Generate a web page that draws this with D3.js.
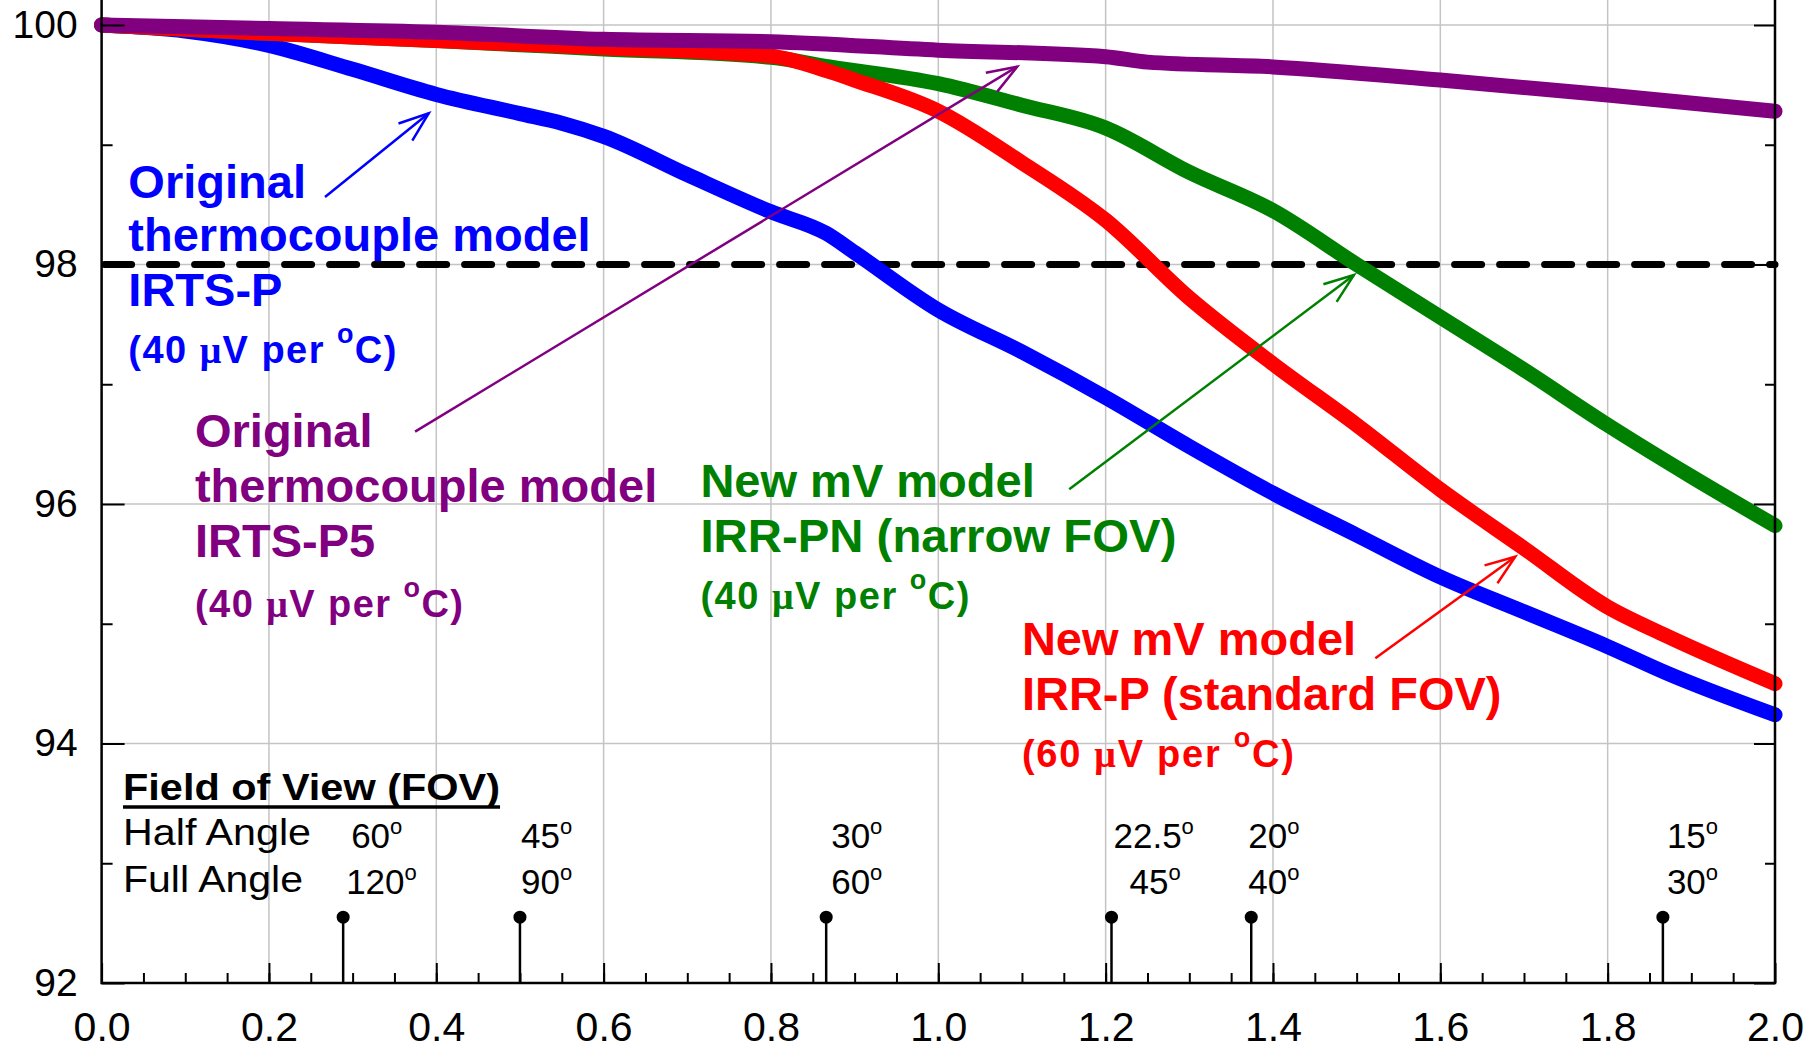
<!DOCTYPE html>
<html>
<head>
<meta charset="utf-8">
<script src="https://cdn.jsdelivr.net/npm/d3@7"></script>
<style>
  body { margin: 0; background: #fff; }
  svg { display: block; font-family: "Liberation Sans", Arial, sans-serif; }
</style>
</head>
<body>
<div id="chart"></div>
<script>
// values (x = distance ratio, y = percent)
const blueX = [0, 0.1, 0.2, 0.3, 0.4, 0.5, 0.55, 0.6, 0.7, 0.8, 0.866, 0.9, 1.0, 1.1, 1.2, 1.3, 1.4, 1.5, 1.6, 1.7, 1.8, 1.87, 2.0];
const blueY = [100, 99.95, 99.83, 99.63, 99.42, 99.26, 99.18, 99.07, 98.75, 98.44, 98.26, 98.1, 97.62, 97.27, 96.89, 96.48, 96.09, 95.74, 95.39, 95.1, 94.81, 94.59, 94.24];

const greenX = [0, 0.2, 0.4, 0.6, 0.8, 0.87, 1.0, 1.1, 1.2, 1.3, 1.4, 1.5, 1.6, 1.7, 1.8, 1.9, 2.0];
const greenY = [100, 99.93, 99.87, 99.8, 99.73, 99.65, 99.51, 99.33, 99.14, 98.77, 98.45, 98.0, 97.56, 97.12, 96.66, 96.23, 95.82];

const redX = [0, 0.2, 0.4, 0.6, 0.8, 0.87, 0.9, 1.0, 1.1, 1.2, 1.3, 1.4, 1.5, 1.6, 1.7, 1.8, 1.87, 2.0];
const redY = [100, 99.93, 99.87, 99.81, 99.74, 99.61, 99.54, 99.28, 98.85, 98.37, 97.72, 97.17, 96.66, 96.12, 95.63, 95.14, 94.9, 94.5];

const purpleX = [0, 0.2, 0.4, 0.6, 0.8, 1.0, 1.2, 1.25, 1.4, 1.6, 1.8, 2.0];
const purpleY = [100, 99.97, 99.94, 99.88, 99.86, 99.79, 99.735, 99.69, 99.65, 99.54, 99.415, 99.28];

const threshold = 98;

const xTicks = [0, 0.2, 0.4, 0.6, 0.8, 1.0, 1.2, 1.4, 1.6, 1.8, 2.0];
const xMinorTicks = d3.range(0.05, 2, 0.05);
const yTicks = [92, 94, 96, 98, 100];
const yMinorTicks = [93, 95, 97, 99];

// field of view markers
const fovX = [0.2887, 0.5, 0.866, 1.207, 1.374, 1.866];
const halfAngles = ["60", "45", "30", "22.5", "20", "15"];
const fullAngles = ["120", "90", "60", "45", "40", "30"];
const fovLevel = 92.55;

const noteBlue = ["Original", "thermocouple model", "IRTS-P"];
const notePurple = ["Original", "thermocouple model", "IRTS-P5"];
const noteGreen = ["New mV model", "IRR-PN (narrow FOV)"];
const noteRed = ["New mV model", "IRR-P (standard FOV)"];

const C = { blue: "#0000ff", green: "#008000", red: "#ff0000", purple: "#800080" };

const W = 1810, H = 1055;
const x = d3.scaleLinear().domain([0, 2]).range([101.6, 1775]);
const y = d3.scaleLinear().domain([92, 100]).range([983, 25]);
const yTop = 100.3; // plot is cut off just above 100

const svg = d3.select("#chart").append("svg")
  .attr("width", W)
  .attr("height", H);

// grid
svg.append("g").selectAll("line")
  .data(xTicks.slice(1, -1))
  .join("line")
  .attr("x1", d => x(d)).attr("x2", d => x(d))
  .attr("y1", y(92)).attr("y2", y(yTop))
  .attr("stroke", "#c4c4c4").attr("stroke-width", 1.5);

svg.append("g").selectAll("line")
  .data(yTicks.slice(1))
  .join("line")
  .attr("x1", x(0)).attr("x2", x(2))
  .attr("y1", d => y(d)).attr("y2", d => y(d))
  .attr("stroke", "#c4c4c4").attr("stroke-width", 1.5);

// 98 % line
svg.append("line")
  .attr("x1", x(0) + 3).attr("x2", x(2))
  .attr("y1", y(threshold)).attr("y2", y(threshold))
  .attr("stroke", "#000").attr("stroke-width", 7)
  .attr("stroke-linecap", "round")
  .attr("stroke-dasharray", "27,18");

// curves
const line = d3.line().curve(d3.curveMonotoneX).x(d => x(d[0])).y(d => y(d[1]));
const series = [
  { xs: blueX, ys: blueY, color: C.blue },
  { xs: greenX, ys: greenY, color: C.green },
  { xs: redX, ys: redY, color: C.red },
  { xs: purpleX, ys: purpleY, color: C.purple }
];
series.forEach(s => {
  svg.append("path")
    .datum(d3.zip(s.xs, s.ys))
    .attr("fill", "none")
    .attr("stroke", s.color)
    .attr("stroke-width", 15)
    .attr("stroke-linejoin", "round")
    .attr("stroke-linecap", "round")
    .attr("d", line);
});

// axes (ticks point inward)
function styleAxis(g, size) {
  g.select(".domain").remove();
  g.selectAll(".tick line").attr("stroke", "#000").attr("stroke-width", 2);
  g.selectAll(".tick text").attr("fill", "#000").attr("font-size", size)
    .attr("font-family", "'Liberation Sans', Arial, sans-serif");
}

svg.append("g")
  .attr("transform", `translate(0,${y(92)})`)
  .call(d3.axisBottom(x).tickValues(xTicks).tickSize(-20).tickPadding(29).tickFormat(d3.format(".1f")))
  .call(g => styleAxis(g, 41));
svg.append("g")
  .attr("transform", `translate(0,${y(92)})`)
  .call(d3.axisBottom(x).tickValues(xMinorTicks).tickSize(-10).tickFormat(""))
  .call(g => styleAxis(g, 0));

svg.append("g")
  .attr("transform", `translate(${x(0)},0)`)
  .call(d3.axisLeft(y).tickValues(yTicks).tickSize(-23).tickPadding(24))
  .call(g => styleAxis(g, 39));
svg.append("g")
  .attr("transform", `translate(${x(0)},0)`)
  .call(d3.axisLeft(y).tickValues(yMinorTicks).tickSize(-11).tickFormat(""))
  .call(g => styleAxis(g, 0));

svg.append("g")
  .attr("transform", `translate(${x(2)},0)`)
  .call(d3.axisRight(y).tickValues(yTicks).tickSize(-21).tickFormat(""))
  .call(g => styleAxis(g, 0));
svg.append("g")
  .attr("transform", `translate(${x(2)},0)`)
  .call(d3.axisRight(y).tickValues(yMinorTicks).tickSize(-10).tickFormat(""))
  .call(g => styleAxis(g, 0));

// frame
svg.append("path")
  .attr("d", `M${x(0)},${y(yTop)}V${y(92)}H${x(2)}V${y(yTop)}`)
  .attr("fill", "none").attr("stroke", "#000").attr("stroke-width", 2.5);

// FOV markers
const fov = svg.append("g");
fov.selectAll("line").data(fovX).join("line")
  .attr("x1", d => x(d)).attr("x2", d => x(d))
  .attr("y1", y(92)).attr("y2", y(fovLevel))
  .attr("stroke", "#000").attr("stroke-width", 2.5);
fov.selectAll("circle").data(fovX).join("circle")
  .attr("cx", d => x(d)).attr("cy", y(fovLevel)).attr("r", 6.5)
  .attr("fill", "#000");

const fovTitleAt = [0.0256, 93.528];
const halfDx = [8, 1, 5, 2, -3, 4];
const fullDx = [3, 1, 5, 18, -3, 4];

const fx = x(fovTitleAt[0]), fy = y(fovTitleAt[1]);
fov.append("text")
  .attr("x", fx).attr("y", fy)
  .attr("font-size", 36).attr("font-weight", "bold")
  .attr("textLength", 377).attr("lengthAdjust", "spacingAndGlyphs")
  .text("Field of View (FOV)");
fov.append("line")
  .attr("x1", fx).attr("x2", fx + 377)
  .attr("y1", fy + 7).attr("y2", fy + 7)
  .attr("stroke", "#000").attr("stroke-width", 3.5);
[["Half Angle", 45, 188], ["Full Angle", 92, 180]].forEach(([t, dy, len]) => {
  fov.append("text")
    .attr("x", fx).attr("y", fy + dy)
    .attr("font-size", 36)
    .attr("textLength", len).attr("lengthAdjust", "spacingAndGlyphs")
    .text(t);
});

function angleLabel(vals, dxs, dy) {
  vals.forEach((v, i) => {
    const t = fov.append("text")
      .attr("x", x(fovX[i]) + dxs[i]).attr("y", fy + dy)
      .attr("font-size", 35);
    t.append("tspan").text(v);
    t.append("tspan").attr("font-size", 22).attr("dy", -14).text("o");
  });
}
angleLabel(halfAngles, halfDx, 48);
angleLabel(fullAngles, fullDx, 94);

// annotations (anchors in data units)
const notes = [
  { lines: noteBlue, gain: "40", color: C.blue, at: [0.032, 98.553], steps: [0, 53, 108, 165], unitLen: 268 },
  { lines: notePurple, gain: "40", color: C.purple, at: [0.1116, 96.478], steps: [0, 55, 110, 170], unitLen: 268 },
  { lines: noteGreen, gain: "40", color: C.green, at: [0.7157, 96.061], steps: [0, 55, 112], unitLen: 269, widths: [null, 476] },
  { lines: noteRed, gain: "60", color: C.red, at: [1.0999, 94.739], steps: [0, 55, 112], unitLen: 272 }
];

const arrows = [
  { from: [0.267, 98.564], to: [0.391, 99.263], color: C.blue },
  { from: [0.3747, 96.604], to: [1.0943, 99.652], color: C.purple },
  { from: [1.1565, 96.123], to: [1.4968, 97.912], color: C.green },
  { from: [1.5223, 94.711], to: [1.6896, 95.56], color: C.red }
];

const defs = svg.append("defs");
Object.entries(C).forEach(([k, c]) => {
  defs.append("marker")
    .attr("id", "head-" + k)
    .attr("viewBox", "-32 -14 36 28")
    .attr("refX", 0).attr("refY", 0)
    .attr("markerWidth", 36).attr("markerHeight", 28)
    .attr("markerUnits", "userSpaceOnUse")
    .attr("orient", "auto")
    .append("path")
    .attr("d", "M-30,-11L0,0L-30,11")
    .attr("fill", "none").attr("stroke", c).attr("stroke-width", 2.5);
});

arrows.forEach(a => {
  const key = Object.keys(C).find(k => C[k] === a.color);
  svg.append("line")
    .attr("x1", x(a.from[0])).attr("y1", y(a.from[1]))
    .attr("x2", x(a.to[0])).attr("y2", y(a.to[1]))
    .attr("stroke", a.color).attr("stroke-width", 2.5)
    .attr("marker-end", `url(#head-${key})`);
});

notes.forEach(n => {
  const nx = x(n.at[0]), ny = y(n.at[1]);
  const g = svg.append("g").attr("fill", n.color).attr("font-weight", "bold");
  n.lines.forEach((t, i) => {
    const el = g.append("text")
      .attr("x", nx).attr("y", ny + n.steps[i])
      .attr("font-size", 47)
      .text(t);
    if (n.widths && n.widths[i]) {
      el.attr("textLength", n.widths[i]).attr("lengthAdjust", "spacingAndGlyphs");
    }
  });
  const u = g.append("text")
    .attr("x", nx).attr("y", ny + n.steps[n.lines.length])
    .attr("font-size", 38)
    .attr("textLength", n.unitLen).attr("lengthAdjust", "spacing");
  u.append("tspan").text(`(${n.gain} `);
  u.append("tspan").attr("font-family", "'Liberation Serif', serif").text("\u03bc");
  u.append("tspan").text("V per ");
  u.append("tspan").attr("font-size", 27).attr("dy", -20).text("o");
  u.append("tspan").attr("dy", 20).text("C)");
});
</script>
</body>
</html>
